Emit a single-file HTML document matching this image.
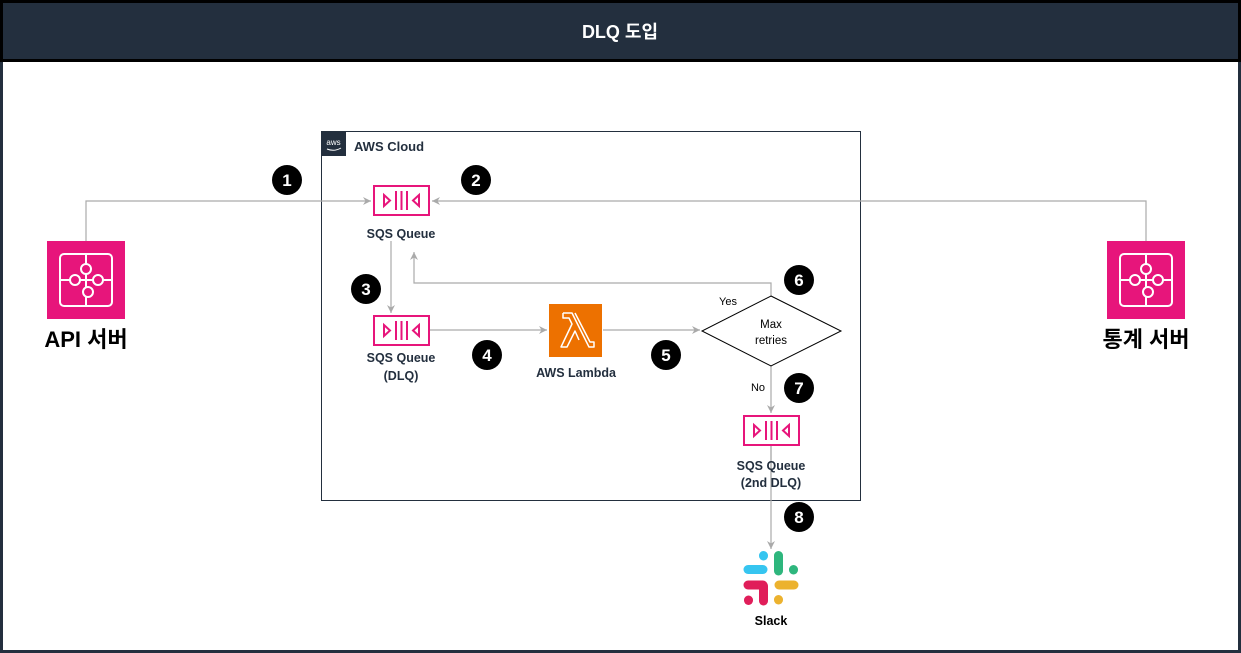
<!DOCTYPE html>
<html><head><meta charset="utf-8"><style>
html,body{margin:0;padding:0;background:#fff}
svg{display:block}
text{font-family:"Liberation Sans","Noto Sans CJK KR",sans-serif}
</style></head><body>
<svg width="1241" height="653" viewBox="0 0 1241 653" xmlns="http://www.w3.org/2000/svg">
<defs>
<marker id="ar" markerWidth="10" markerHeight="10" refX="8" refY="5" orient="auto" markerUnits="userSpaceOnUse">
<path d="M0,1 L8,5 L0,9 L2.5,5 Z" fill="#aaa"/>
</marker>
<g id="q">
<rect x="1" y="1" width="55" height="29" fill="#fff" stroke="#e7157b" stroke-width="2"/>
<path d="M11,10 L17,15.5 L11,21 Z" fill="none" stroke="#e7157b" stroke-width="2"/>
<path d="M46,10 L40,15.5 L46,21 Z" fill="none" stroke="#e7157b" stroke-width="2"/>
<line x1="23" y1="6" x2="23" y2="25" stroke="#e7157b" stroke-width="2"/>
<line x1="28.5" y1="6" x2="28.5" y2="25" stroke="#e7157b" stroke-width="2"/>
<line x1="34" y1="6" x2="34" y2="25" stroke="#e7157b" stroke-width="2"/>
</g>
<g id="pz">
<rect x="0" y="0" width="78" height="78" fill="#e7157b"/>
<rect x="13" y="13" width="52" height="52" rx="4" fill="none" stroke="#fff" stroke-width="2"/>
<line x1="39" y1="13" x2="39" y2="65" stroke="#fff" stroke-width="2"/>
<line x1="13" y1="39" x2="65" y2="39" stroke="#fff" stroke-width="2"/>
<circle cx="39" cy="28" r="5" fill="#e7157b" stroke="#fff" stroke-width="2"/>
<circle cx="51" cy="39" r="5" fill="#e7157b" stroke="#fff" stroke-width="2"/>
<circle cx="28" cy="39" r="5" fill="#e7157b" stroke="#fff" stroke-width="2"/>
<circle cx="41" cy="51" r="5" fill="#e7157b" stroke="#fff" stroke-width="2"/>
</g>
</defs>
<rect x="1.5" y="1.5" width="1238" height="650" fill="#fff" stroke="#232f3e" stroke-width="3"/>
<rect x="1.5" y="1.5" width="1238" height="59" fill="#232f3e" stroke="#000" stroke-width="3"/>
<text x="620" y="38" text-anchor="middle" font-size="18" font-weight="bold" fill="#fff">DLQ 도입</text>

<!-- AWS cloud -->
<rect x="321.5" y="131.5" width="539" height="369" fill="none" stroke="#232f3e" stroke-width="1"/>
<rect x="321" y="131" width="25" height="25" fill="#232f3e"/>
<text x="333.5" y="145" text-anchor="middle" font-size="8" fill="#fff">aws</text>
<path d="M327,149 Q334,152 341,148" stroke="#fff" fill="none" stroke-width="1"/>
<text x="354" y="151" font-size="13" font-weight="bold" fill="#232f3e">AWS Cloud</text>

<!-- connectors -->
<g stroke="#aaa" stroke-width="1.2" fill="none">
<path d="M86,241 V201 H371" marker-end="url(#ar)"/>
<path d="M1146,241 V201 H432" marker-end="url(#ar)"/>
<path d="M391,241 V313" marker-end="url(#ar)"/>
<path d="M771,296 V283 H414 V252" marker-end="url(#ar)"/>
<path d="M430,330 H547" marker-end="url(#ar)"/>
<path d="M603,330 H700" marker-end="url(#ar)"/>
<path d="M771,366 V413" marker-end="url(#ar)"/>
<path d="M771,446 V549" marker-end="url(#ar)"/>
</g>

<!-- queues -->
<use href="#q" x="373" y="185"/>
<text x="401" y="238" text-anchor="middle" font-size="12.5" font-weight="bold" fill="#232f3e">SQS Queue</text>
<use href="#q" x="373" y="315"/>
<text x="401" y="362" text-anchor="middle" font-size="12.5" font-weight="bold" fill="#232f3e">SQS Queue</text>
<text x="401" y="380" text-anchor="middle" font-size="12.5" font-weight="bold" fill="#232f3e">(DLQ)</text>
<use href="#q" x="743" y="415"/>
<line x1="771" y1="446" x2="771" y2="480" stroke="#aaa" stroke-width="1.2"/>
<text x="771" y="470" text-anchor="middle" font-size="12.5" font-weight="bold" fill="#232f3e">SQS Queue</text>
<text x="771" y="487" text-anchor="middle" font-size="12.5" font-weight="bold" fill="#232f3e">(2nd DLQ)</text>

<!-- lambda -->
<rect x="549" y="304" width="53" height="53" fill="#ed7100"/>
<path d="M563,313 H572 L589,347 H594 V342 L590,342 L575,313 M563,313 V318 H569 L572,324 L561,347 H567 L575,331 L579,340" fill="none" stroke="#fff" stroke-width="1.5" stroke-linejoin="round"/>
<text x="576" y="377" text-anchor="middle" font-size="12.5" font-weight="bold" fill="#232f3e">AWS Lambda</text>

<!-- diamond -->
<path d="M771,296 L841,331 L771,366 L702,331 Z" fill="#fff" stroke="#000" stroke-width="1"/>
<text x="771" y="328" text-anchor="middle" font-size="11.5" fill="#000">Max</text>
<text x="771" y="344" text-anchor="middle" font-size="11.5" fill="#000">retries</text>
<text x="728" y="305" text-anchor="middle" font-size="11" fill="#000">Yes</text>
<text x="758" y="391" text-anchor="middle" font-size="11" fill="#000">No</text>

<!-- servers -->
<use href="#pz" x="47" y="241"/>
<text x="86" y="347" text-anchor="middle" font-size="22" font-weight="bold" fill="#000">API 서버</text>
<use href="#pz" x="1107" y="241"/>
<text x="1146" y="347" text-anchor="middle" font-size="22" font-weight="bold" fill="#000">통계 서버</text>

<!-- slack -->
<g stroke-linecap="round" stroke-width="9">
<line x1="748" y1="569.5" x2="763" y2="569.5" stroke="#36c5f0"/>
<line x1="763.5" y1="555.5" x2="763.5" y2="556" stroke="#36c5f0"/>
<line x1="778.5" y1="555.5" x2="778.5" y2="571" stroke="#2eb67d"/>
<line x1="793.5" y1="569.5" x2="793.5" y2="570" stroke="#2eb67d"/>
<line x1="748" y1="585" x2="763" y2="585" stroke="#e01e5a"/>
<line x1="763.5" y1="586" x2="763.5" y2="601" stroke="#e01e5a"/>
<line x1="748.5" y1="600" x2="748.5" y2="600.5" stroke="#e01e5a"/>
<line x1="779" y1="585" x2="794" y2="585" stroke="#ecb22e"/>
<line x1="778.5" y1="599.5" x2="778.5" y2="600" stroke="#ecb22e"/>
</g>
<text x="771" y="625" text-anchor="middle" font-size="12.5" font-weight="bold" fill="#000">Slack</text>

<!-- badges -->
<g font-size="17" font-weight="bold" text-anchor="middle" fill="#fff">
<circle cx="287" cy="180" r="15" fill="#000"/><text x="287" y="186">1</text>
<circle cx="476" cy="180" r="15" fill="#000"/><text x="476" y="186">2</text>
<circle cx="366" cy="289" r="15" fill="#000"/><text x="366" y="295">3</text>
<circle cx="487" cy="355" r="15" fill="#000"/><text x="487" y="361">4</text>
<circle cx="666" cy="355" r="15" fill="#000"/><text x="666" y="361">5</text>
<circle cx="799" cy="280" r="15" fill="#000"/><text x="799" y="286">6</text>
<circle cx="799" cy="388" r="15" fill="#000"/><text x="799" y="394">7</text>
<circle cx="799" cy="517" r="15" fill="#000"/><text x="799" y="523">8</text>
</g>
</svg>
</body></html>
